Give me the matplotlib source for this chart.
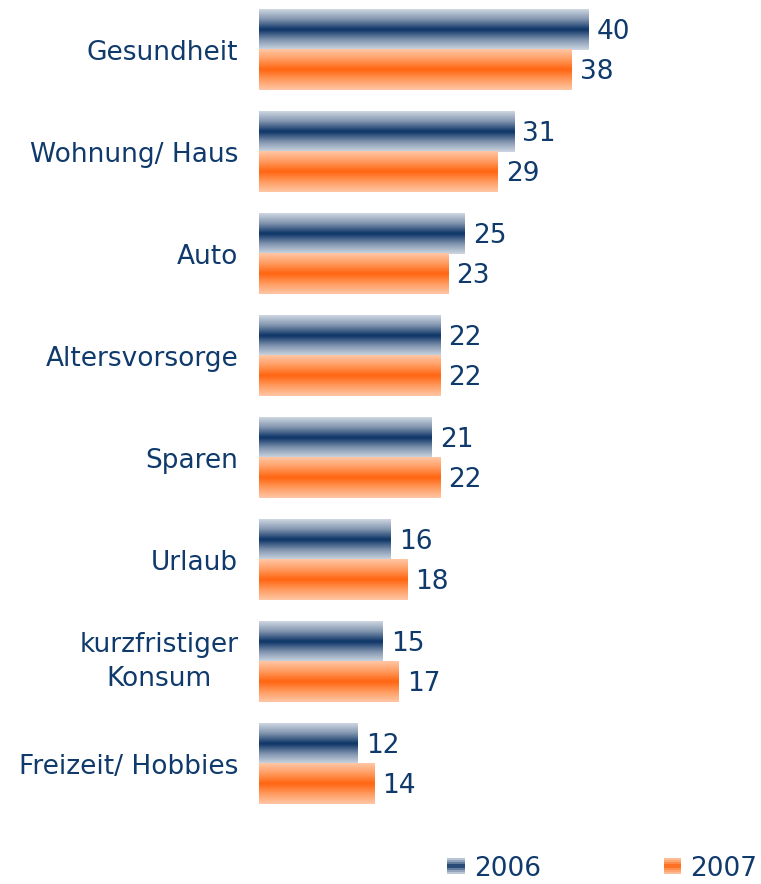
import numpy as np
import matplotlib.pyplot as plt
from matplotlib.colors import LinearSegmentedColormap
from matplotlib.patches import Rectangle
from matplotlib.legend_handler import HandlerBase

# Data
categories = ["Gesundheit", "Wohnung/ Haus", "Auto", "Altersvorsorge", "Sparen",
              "Urlaub", "kurzfristiger\nKonsum", "Freizeit/ Hobbies"]
values_2006 = [40, 31, 25, 22, 21, 16, 15, 12]
values_2007 = [38, 29, 23, 22, 22, 18, 17, 14]
years = ["2006", "2007"]

text_color = "#0f3a6b"
navy_cmap = LinearSegmentedColormap.from_list(
    "navy", ["#cdd6e1", "#7f93ad", "#0b3366", "#7f93ad", "#cdd6e1"])
orange_cmap = LinearSegmentedColormap.from_list(
    "orange", ["#ffc6a4", "#ff9a5e", "#ff640f", "#ff9a5e", "#ffc6a4"])
grad = np.linspace(0, 1, 64).reshape(-1, 1)

plt.rcParams['font.family'] = ['Verdana', 'DejaVu Sans']
fs = 19

fig = plt.figure(figsize=(7.61, 8.84), dpi=100)
W, H = 761, 884
ax = fig.add_axes([259 / W, 54 / H, (W - 259) / W, 830 / H])

pos = np.arange(len(categories))
h = 0.395
bars06 = ax.barh(pos - h / 2, values_2006, height=h, color="none")
bars07 = ax.barh(pos + h / 2, values_2007, height=h, color="none")


def fill_gradient(bars, cmap):
    for b in bars:
        x0, y0, w, hh = b.get_x(), b.get_y(), b.get_width(), b.get_height()
        ax.imshow(grad, cmap=cmap, aspect="auto", interpolation="bicubic",
                  extent=[x0, x0 + w, y0 + hh, y0], zorder=2)


fill_gradient(bars06, navy_cmap)
fill_gradient(bars07, orange_cmap)

for bars in (bars06, bars07):
    for b in bars:
        ax.text(b.get_width() + 1.0, b.get_y() + b.get_height() / 2 + 0.02,
                f"{int(b.get_width())}", va="center", ha="left",
                fontsize=fs, color=text_color)

ax.set_xlim(0, 61)
unit = 102
ax.set_ylim((830 - 50) / unit, -50 / unit)
ax.set_yticks(pos)
ax.set_yticklabels(categories, fontsize=fs, color=text_color,
                   multialignment="center", linespacing=1.35)
for lbl in ax.get_yticklabels():
    if "\n" in lbl.get_text():
        lbl.set_va("center")
ax.tick_params(axis="y", length=0, pad=15)
ax.set_xticks([])
for s in ax.spines.values():
    s.set_visible(False)


class GradientHandler(HandlerBase):
    def __init__(self, cmap):
        super().__init__()
        self.cmap = cmap

    def create_artists(self, legend, orig_handle, xdescent, ydescent,
                       width, height, fontsize, trans):
        n = 8
        artists = []
        for i in range(n):
            c = self.cmap((i + 0.5) / n)
            r = Rectangle((-xdescent, -ydescent + height * (n - 1 - i) / n),
                          width, height / n, facecolor=c, edgecolor="none",
                          transform=trans)
            artists.append(r)
        return artists


h1 = Rectangle((0, 0), 1, 1)
h2 = Rectangle((0, 0), 1, 1)
leg = fig.legend([h1, h2], years, loc="lower left",
                 bbox_to_anchor=(429 / W, -16 / H), ncol=2, frameon=False,
                 fontsize=fs, labelcolor=text_color,
                 handler_map={h1: GradientHandler(navy_cmap),
                              h2: GradientHandler(orange_cmap)},
                 handlelength=0.65, handleheight=0.55, handletextpad=0.35,
                 columnspacing=4.65, borderpad=0.2)

fig.savefig("out.png", dpi=100)
